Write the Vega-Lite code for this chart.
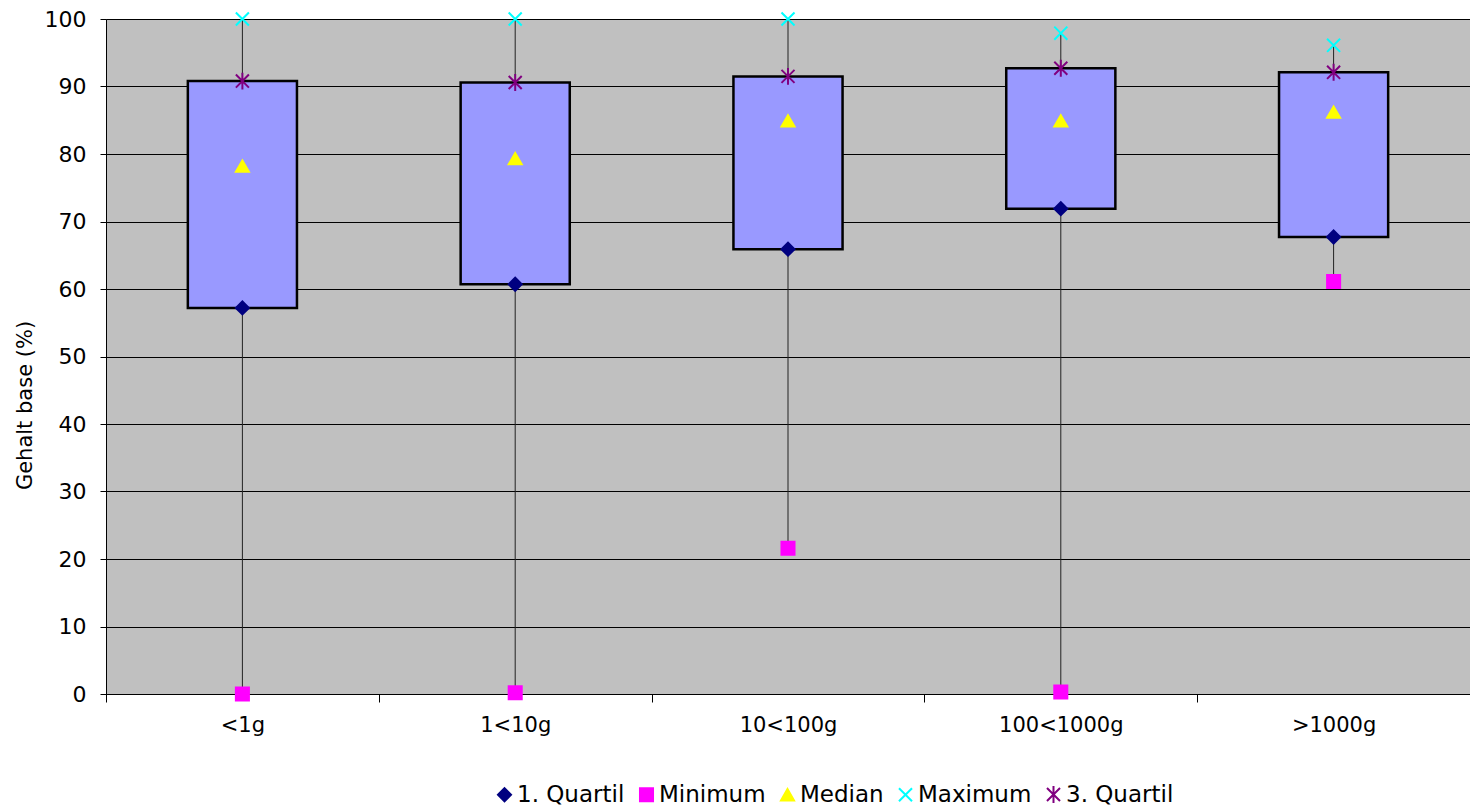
{
  "$schema": "https://vega.github.io/schema/vega-lite/v6.json",
  "width": 1364,
  "height": 675,
  "autosize": {"type": "none"},
  "padding": {"left": 106, "top": 19, "right": 0, "bottom": 114},
  "background": "white",
  "config": {
    "font": "DejaVu Sans",
    "view": {"fill": "#C0C0C0", "stroke": "#808080", "strokeWidth": 1}
  },
  "data": {
    "values": [
      {"cat": "<1g", "Minimum": 0.0, "Q1": 57.2, "Median": 78.2, "Q3": 90.8, "Maximum": 100.0},
      {"cat": "1<10g", "Minimum": 0.2, "Q1": 60.7, "Median": 79.3, "Q3": 90.6, "Maximum": 100.0},
      {"cat": "10<100g", "Minimum": 21.6, "Q1": 65.9, "Median": 84.9, "Q3": 91.5, "Maximum": 100.0},
      {"cat": "100<1000g", "Minimum": 0.3, "Q1": 71.9, "Median": 84.9, "Q3": 92.7, "Maximum": 97.9},
      {"cat": ">1000g", "Minimum": 61.1, "Q1": 67.7, "Median": 86.2, "Q3": 92.1, "Maximum": 96.1}
    ]
  },
  "encoding": {
    "x": {
      "field": "cat",
      "type": "nominal",
      "sort": null,
      "scale": {"paddingInner": 0, "paddingOuter": 0},
      "axis": {
        "title": null,
        "labelAngle": 0,
        "tickBand": "extent",
        "tickSize": 8,
        "labelPadding": 12,
        "labelFontSize": 21,
        "labelColor": "black",
        "domainColor": "black",
        "tickColor": "black",
        "grid": false
      }
    }
  },
  "layer": [
    {
      "mark": {"type": "rule", "color": "#222222", "strokeWidth": 1},
      "encoding": {
        "y": {
          "field": "Minimum",
          "type": "quantitative",
          "scale": {"domain": [0, 100], "nice": false},
          "axis": {
            "title": "Gehalt base (%)",
            "values": [0, 10, 20, 30, 40, 50, 60, 70, 80, 90, 100],
            "tickSize": 6,
            "labelPadding": 14,
            "labelFontSize": 22,
            "labelColor": "black",
            "titleFontSize": 21,
            "titleFontWeight": "normal",
            "titleColor": "black",
            "titlePadding": 9,
            "titleY": 386,
            "gridColor": "black",
            "gridWidth": 1,
            "gridOpacity": 1,
            "domainColor": "black",
            "tickColor": "black"
          }
        },
        "y2": {"field": "Maximum"}
      }
    },
    {
      "mark": {"type": "bar", "width": {"band": 0.4}, "fill": "#9999FF", "stroke": "black", "strokeWidth": 2.5},
      "encoding": {
        "y": {"field": "Q1", "type": "quantitative"},
        "y2": {"field": "Q3"}
      }
    },
    {
      "transform": [
        {"fold": ["Q1", "Minimum", "Median", "Maximum", "Q3"], "as": ["series", "value"]}
      ],
      "mark": {"type": "point", "filled": true, "size": 170, "opacity": 1, "strokeWidth": 2},
      "encoding": {
        "y": {"field": "value", "type": "quantitative"},
        "shape": {
          "field": "series",
          "type": "nominal",
          "scale": {
            "domain": ["Q1", "Minimum", "Median", "Maximum", "Q3"],
            "range": ["diamond", "square", "triangle-up", "M-1,-1L1,1M-1,1L1,-1", "M-1,-1L1,1M-1,1L1,-1M0,-1.3L0,1.3"]
          },
          "legend": {
            "title": null,
            "orient": "none",
            "legendX": 387,
            "legendY": 764,
            "direction": "horizontal",
            "labelFontSize": 23,
            "labelColor": "black",
            "symbolSize": 170,
            "symbolStrokeWidth": 2,
            "columnPadding": 10,
            "labelOffset": 1,
            "labelExpr": "datum.label == 'Q1' ? '1. Quartil' : datum.label == 'Q3' ? '3. Quartil' : datum.label"
          }
        },
        "fill": {
          "field": "series",
          "type": "nominal",
          "scale": {
            "domain": ["Q1", "Minimum", "Median", "Maximum", "Q3"],
            "range": ["#000080", "#FF00FF", "#FFFF00", "#00FFFF", "#800080"]
          },
          "legend": {
            "title": null,
            "orient": "none",
            "legendX": 387,
            "legendY": 764,
            "direction": "horizontal",
            "labelFontSize": 23,
            "labelColor": "black",
            "symbolSize": 170,
            "symbolStrokeWidth": 2,
            "columnPadding": 10,
            "labelOffset": 1,
            "labelExpr": "datum.label == 'Q1' ? '1. Quartil' : datum.label == 'Q3' ? '3. Quartil' : datum.label"
          }
        },
        "stroke": {
          "field": "series",
          "type": "nominal",
          "scale": {
            "domain": ["Q1", "Minimum", "Median", "Maximum", "Q3"],
            "range": ["#000080", "#FF00FF", "#FFFF00", "#00FFFF", "#800080"]
          },
          "legend": {
            "title": null,
            "orient": "none",
            "legendX": 387,
            "legendY": 764,
            "direction": "horizontal",
            "labelFontSize": 23,
            "labelColor": "black",
            "symbolSize": 170,
            "symbolStrokeWidth": 2,
            "columnPadding": 10,
            "labelOffset": 1,
            "labelExpr": "datum.label == 'Q1' ? '1. Quartil' : datum.label == 'Q3' ? '3. Quartil' : datum.label"
          }
        }
      }
    }
  ]
}
